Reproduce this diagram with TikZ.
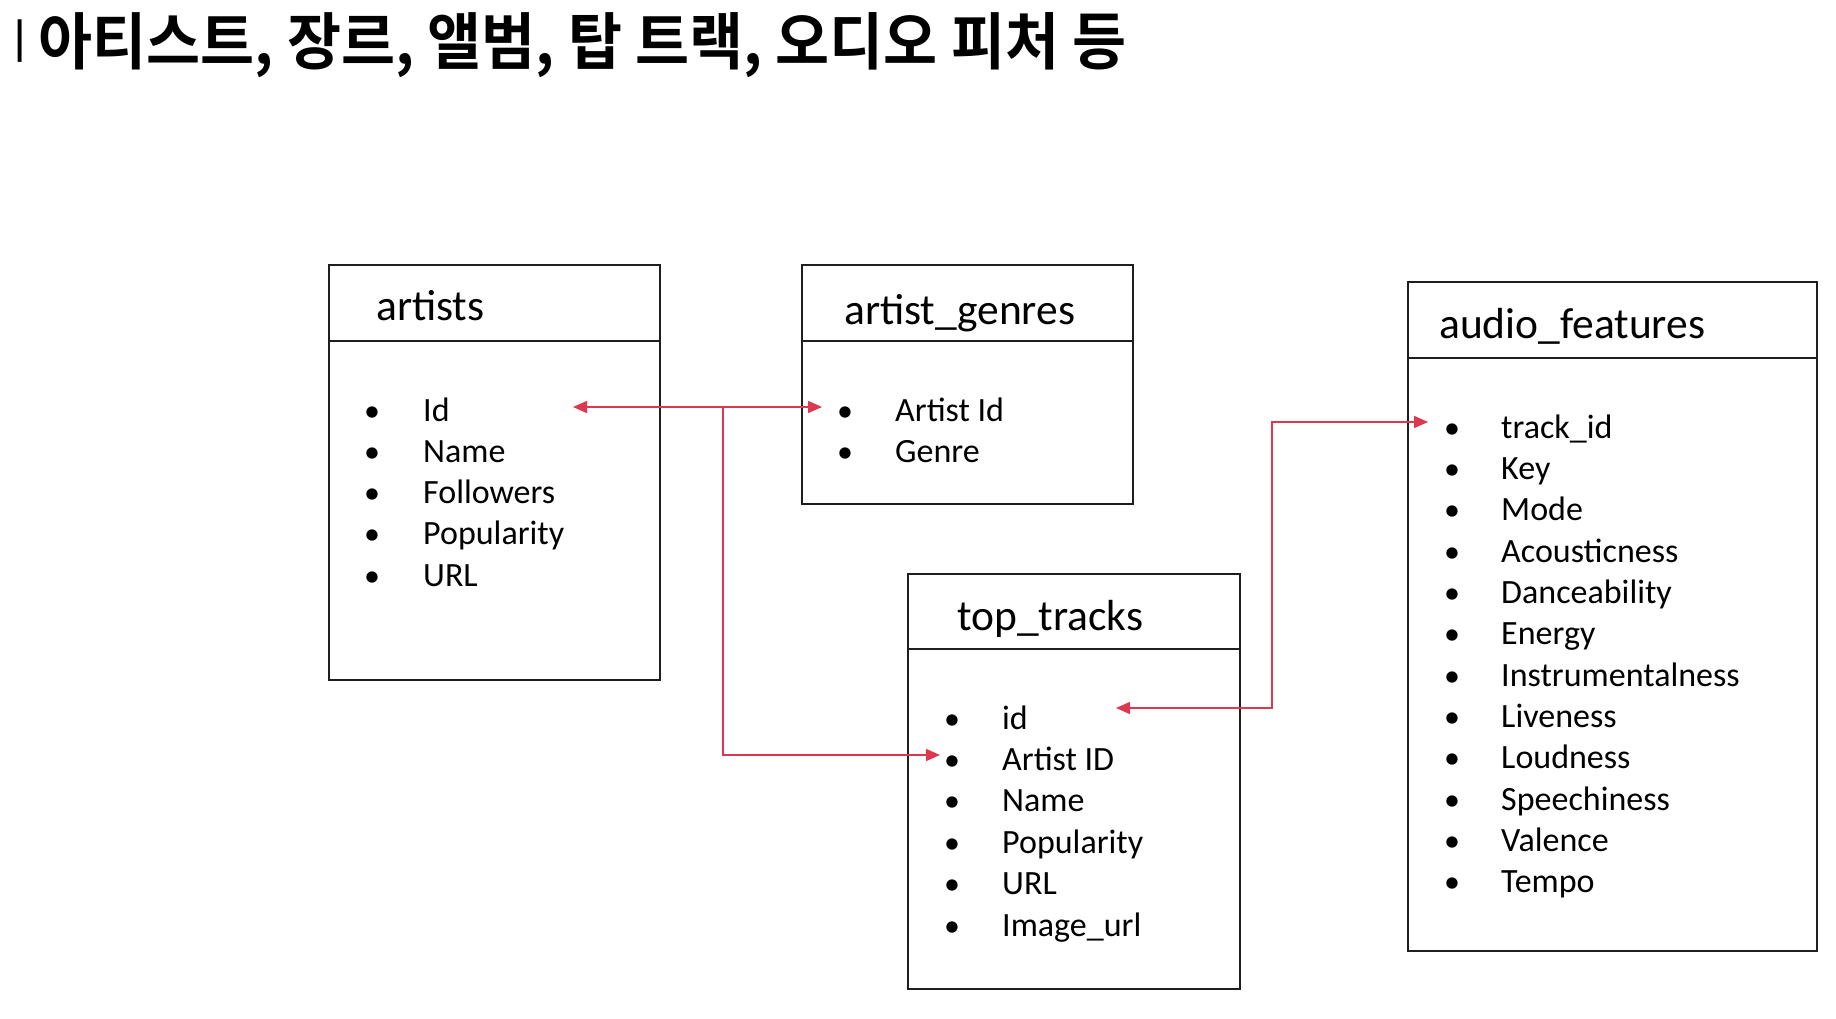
\documentclass[tikz,border=0pt]{standalone}
\usepackage{fontspec}
\usepackage{graphicx}
\setmainfont{Carlito}
\newfontfamily\krfont{Noto Sans CJK KR}[BoldFont={Noto Sans CJK KR Bold}]
\usetikzlibrary{arrows.meta}
\definecolor{lnk}{RGB}{221,56,79}
\definecolor{bord}{RGB}{30,30,30}
\tikzset{
 tbl/.style={draw=bord, line width=2.2pt, rectangle, inner sep=0pt, anchor=north west},
 sepline/.style={draw=bord, line width=2.2pt},
 hdr/.style={font=\fontsize{43.5}{50}\selectfont, anchor=base west, inner sep=0pt},
 itm/.style={font=\fontsize{34}{40}\selectfont, anchor=base west, inner sep=0pt},
 bul/.style={font=\fontsize{32}{40}\selectfont, anchor=base, inner sep=0pt},
 conn/.style={draw=lnk, line width=1.5pt},
}
\begin{document}
\begin{tikzpicture}[x=1pt,y=-1pt, >={Triangle[length=14pt,width=12pt]}]
\useasboundingbox (0,0) rectangle (1836,1018);
\fill[white] (0,0) rectangle (1836,1018);

% title
\node[anchor=base west, inner sep=0pt] (title) at (5.8,64)
 {\scalebox{0.947}[1]{\krfont\bfseries\fontsize{62}{70}\selectfont\raisebox{5.5pt}{\scalebox{0.5}[0.75]{ㅣ}}\kern6.1pt 아티스트, 장르, 앨범, 탑 트랙, 오디오 피처 등}};

% tables
\node[tbl, minimum width=331pt, minimum height=415pt] (artists) at (328,264) {};
\draw[sepline] ([yshift=-77pt]artists.north west) -- ([yshift=-77pt]artists.north east);
\node[hdr] (artistsH) at (376,320) {artists};

\node[tbl, minimum width=331pt, minimum height=239pt] (genres) at (801,264) {};
\draw[sepline] ([yshift=-77pt]genres.north west) -- ([yshift=-77pt]genres.north east);
\node[hdr] (genresH) at (844,324) {artist\_genres};

\node[tbl, minimum width=332pt, minimum height=415pt] (tracks) at (907,573) {};
\draw[sepline] ([yshift=-76pt]tracks.north west) -- ([yshift=-76pt]tracks.north east);
\node[hdr] (tracksH) at (957,630) {top\_tracks};

\node[tbl, minimum width=409pt, minimum height=669pt] (audio) at (1407,281) {};
\draw[sepline] ([yshift=-77pt]audio.north west) -- ([yshift=-77pt]audio.north east);
\node[hdr] (audioH) at (1439,338) {audio\_features};

% items
\foreach \t [count=\i from 0] in {Id,Name,Followers,Popularity,URL} {
 \node[bul] (ab\i) at (372, 421+41.3*\i) {•};
 \node[itm] (a\i) at (423, 421+41.3*\i) {\t};
}
\foreach \t [count=\i from 0] in {Artist Id,Genre} {
 \node[bul] (gb\i) at (845, 421+41.3*\i) {•};
 \node[itm] (g\i) at (895, 421+41.3*\i) {\t};
}
\foreach \t [count=\i from 0] in {id,Artist ID,Name,Popularity,URL,Image\_url} {
 \node[bul] (tb\i) at (952, 729+41.4*\i) {•};
 \node[itm] (t\i) at (1002, 729+41.4*\i) {\t};
}
\foreach \t [count=\i from 0] in {track\_id,Key,Mode,Acousticness,Danceability,Energy,Instrumentalness,Liveness,Loudness,Speechiness,Valence,Tempo} {
 \node[bul] (fb\i) at (1452, 438+41.35*\i) {•};
 \node[itm] (f\i) at (1501, 438+41.35*\i) {\t};
}

% connectors
\coordinate (aIdTip) at (573,407);
\coordinate (gIdTip) at (822,407);
\coordinate (j1) at (723,407);
\coordinate (tArtTip) at (940,755);
\draw[conn,<->] (aIdTip) -- (gIdTip);
\draw[conn,->] (j1) |- (tArtTip);

\coordinate (tIdTip) at (1116,708);
\coordinate (j2) at (1272,708);
\coordinate (fIdTip) at (1428,422);
\draw[conn,<->] (tIdTip) -- (j2) |- (fIdTip);
\end{tikzpicture}
\end{document}
